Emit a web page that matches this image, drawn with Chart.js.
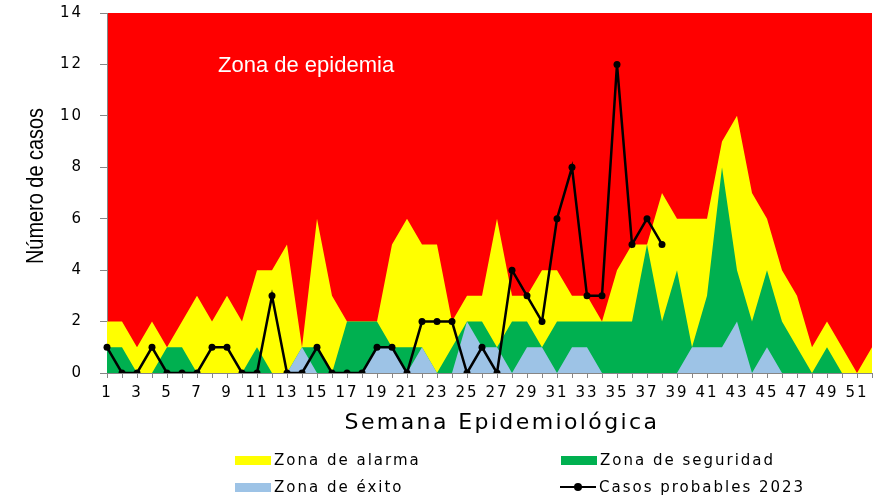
<!DOCTYPE html>
<html>
<head>
<meta charset="utf-8">
<script src="https://cdn.jsdelivr.net/npm/chart.js@4/dist/chart.umd.min.js"></script>
<style>
body{margin:0;background:#fff;}
#wrap{position:relative;width:884px;height:497px;}
#legend{position:absolute;left:0;top:0;width:884px;height:497px;font:15px "DejaVu Sans",sans-serif;letter-spacing:2px;color:#000;}
.item{position:absolute;display:flex;align-items:center;height:20px;margin-top:-10px;white-space:nowrap;}
.box{width:36px;height:9px;margin-right:3px;}
.ln{position:relative;width:36px;height:2px;background:#000;margin-right:3px;}
.ln:after{content:"";position:absolute;left:14px;top:-3px;width:8px;height:8px;border-radius:50%;background:#000;}
</style>
</head>
<body>
<div id="wrap">
  <canvas id="chart" width="884" height="497"></canvas>
  <div id="legend">
    <div class="item" style="left:235px;top:460px"><span class="box" style="background:#FFFF00"></span>Zona de alarma</div>
    <div class="item" style="left:561px;top:460px"><span class="box" style="background:#00B050"></span>Zona de seguridad</div>
    <div class="item" style="left:235px;top:487px"><span class="box" style="background:#9DC3E6"></span>Zona de éxito</div>
    <div class="item" style="left:560px;top:487px"><span class="ln"></span>Casos probables 2023</div>
  </div>
</div>
<script>
// semanas epidemiologicas
var weeks = [1,2,3,4,5,6,7,8,9,10,11,12,13,14,15,16,17,18,19,20,21,22,23,24,25,26,
             27,28,29,30,31,32,33,34,35,36,37,38,39,40,41,42,43,44,45,46,47,48,49,50,51,52];

// canal endemico
var alarmZone   = [2,2,1,2,1,2,3,2,3,2, 4,4,5,1,6,3,2,2,2,5, 6,5,5,2,3,3,6,3,3,4,
                   4,3,3,2,4,5,5,7,6,6, 6,9,10,7,6,4,3,1,2,1, 0,1];
var safetyZone  = [1,1,0,0,1,1,0,0,0,0, 1,0,0,1,1,0,2,2,2,1, 1,1,0,1,2,2,1,2,2,1,
                   2,2,2,2,2,2,5,2,4,1, 3,8,4,2,4,2,1,0,1,0, 0,0];
var successZone = [0,0,0,0,0,0,0,0,0,0, 0,0,0,1,0,0,0,0,1,1, 0,1,0,0,2,1,1,0,1,1,
                   0,1,1,0,0,0,0,0,0,1, 1,1,2,0,1,0,0,0,0,0, 0,0];

// casos 2023 (hasta semana 38)
var cases2023 = [1,0,0,1,0,0,0,1,1,0, 0,3,0,0,1,0,0,0,1,1, 0,2,2,2,0,1,0,4,3,2,
                 6,8,3,3,12,5,6,5];

var yMax = 14;
var yStep = 2;

var zonesPlugin = {
    id: 'zones',
    beforeDraw: function(chart) {
        var ctx = chart.ctx, a = chart.chartArea;
        ctx.save();
        ctx.fillStyle = '#FF0000';
        ctx.fillRect(a.left, a.top, a.right - a.left, a.bottom - a.top);
        ctx.restore();
        ctx.letterSpacing = '2px';
    },
    beforeDatasetsDraw: function(chart) {
        var ctx = chart.ctx, a = chart.chartArea;
        ctx.save();
        ctx.letterSpacing = '0px';
        ctx.fillStyle = '#FFFFFF';
        ctx.font = '22px "Liberation Sans", Arial, sans-serif';
        ctx.textAlign = 'left';
        ctx.textBaseline = 'middle';
        ctx.fillText('Zona de epidemia', a.left + 111, a.top + 53);
        ctx.restore();
    },
    afterDraw: function(chart) {
        var ctx = chart.ctx, a = chart.chartArea;
        ctx.save();
        ctx.fillStyle = '#000';
        ctx.textAlign = 'center';
        ctx.textBaseline = 'middle';
        ctx.letterSpacing = '2.4px';
        ctx.font = '22px "DejaVu Sans", sans-serif';
        ctx.fillText('Semana Epidemiológica', a.left + 395, a.bottom + 50);
        ctx.letterSpacing = '0px';
        ctx.font = '24px "Liberation Sans", Arial, sans-serif';
        ctx.translate(36, 186);
        ctx.rotate(-Math.PI / 2);
        ctx.scale(0.83, 1);
        ctx.fillText('Número de casos', 0, 0);
        ctx.restore();
    }
};

var ctx1 = document.getElementById('chart').getContext('2d');
var myChart = new Chart(ctx1, {
    type: 'line',
    data: {
        labels: weeks,
        datasets: [
            {
                label: 'Casos probables 2023',
                data: cases2023,
                borderColor: '#000',
                backgroundColor: '#000',
                borderWidth: 2.5,
                pointRadius: 3.5,
                pointBackgroundColor: '#000',
                pointBorderWidth: 0,
                fill: false,
                tension: 0
            },
            {
                label: 'Zona de éxito',
                data: successZone,
                backgroundColor: '#9DC3E6',
                borderColor: 'rgba(0,0,0,0)',
                borderWidth: 1,
                pointRadius: 0,
                fill: 'origin',
                tension: 0
            },
            {
                label: 'Zona de seguridad',
                data: safetyZone,
                backgroundColor: '#00B050',
                borderColor: 'rgba(0,0,0,0)',
                borderWidth: 1,
                pointRadius: 0,
                fill: 'origin',
                tension: 0
            },
            {
                label: 'Zona de alarma',
                data: alarmZone,
                backgroundColor: '#FFFF00',
                borderColor: 'rgba(0,0,0,0)',
                borderWidth: 1,
                pointRadius: 0,
                fill: 'origin',
                tension: 0
            }
        ]
    },
    options: {
        responsive: false,
        animation: false,
        layout: { padding: { top: 13, right: 12, left: 0, bottom: 0 } },
        plugins: {
            legend: { display: false },
            tooltip: { enabled: false }
        },
        scales: {
            x: {
                offset: false,
                z: 1,
                grid: { drawOnChartArea: false, drawTicks: true, tickLength: 5, color: '#868686' },
                border: { color: '#868686', width: 1 },
                ticks: {
                    autoSkip: false,
                    maxRotation: 0,
                    padding: 6,
                    color: '#000',
                    font: { family: 'DejaVu Sans', size: 15 },
                    callback: function(value, index) {
                        return index % 2 === 0 ? this.getLabelForValue(value) : '';
                    }
                },
                afterFit: function(scale) { scale.height = 124; }
            },
            y: {
                min: 0,
                max: yMax,
                z: 1,
                grid: { drawOnChartArea: false, drawTicks: true, tickLength: 7, color: '#868686' },
                border: { color: '#868686', width: 1 },
                ticks: {
                    stepSize: yStep,
                    padding: 17,
                    color: '#000',
                    font: { family: 'DejaVu Sans', size: 15 }
                },
                afterFit: function(scale) {
                    scale.width = 107;
                    scale.paddingTop = 0;
                    scale.paddingBottom = 0;
                }
            }
        }
    },
    plugins: [zonesPlugin]
});
</script>
</body>
</html>
